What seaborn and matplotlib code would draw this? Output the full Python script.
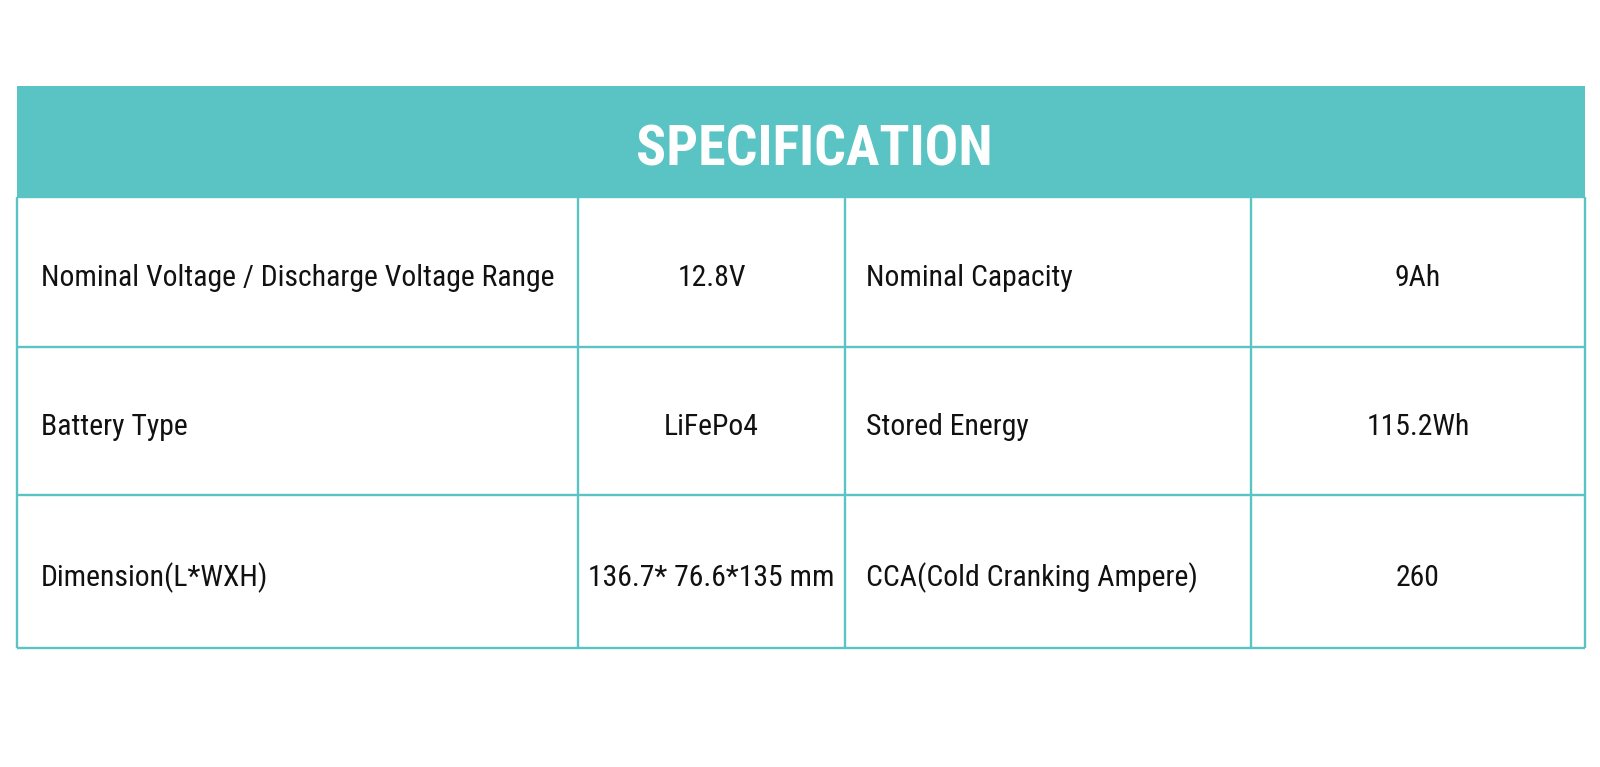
import matplotlib
matplotlib.use("Agg")
import matplotlib.pyplot as plt
from matplotlib import font_manager
import seaborn as sns

# table content
title = "SPECIFICATION"
param_left = ["Nominal Voltage / Discharge Voltage Range", "Battery Type", "Dimension(L*WXH)"]
value_left = ["12.8V", "LiFePo4", "136.7* 76.6*135 mm"]
param_right = ["Nominal Capacity", "Stored Energy", "CCA(Cold Cranking Ampere)"]
value_right = ["9Ah", "115.2Wh", "260"]

# layout in pixels
col_edges = [17, 578, 845, 1251, 1585]
row_edges = [86, 197, 347, 495, 648]
teal = "#5AC4C4"

sns.set_theme(style="white")

# look for a narrow face, the reference uses a condensed sans
fonts = font_manager.fontManager.ttflist
narrow = [f for f in fonts if "condensed" in str(f.stretch).lower() or "narrow" in f.name.lower()
          or "condensed" in f.name.lower()]
pick = None
for want in ["Roboto Condensed", "Liberation Sans Narrow", "Open Sans Condensed", "Noto Sans", "DejaVu Sans"]:
    hits = [f for f in narrow if f.name == want]
    if hits:
        pick = hits[0]
        break
if pick is None and narrow:
    pick = narrow[0]
if pick is not None:
    body_font = dict(family=[pick.name, "DejaVu Sans"], fontstretch="condensed")
else:
    body_font = dict(family=["DejaVu Sans"])

fig = plt.figure(figsize=(16, 7.67), dpi=100)
ax = fig.add_axes([0, 0, 1, 1])
ax.set_xlim(0, 1600)
ax.set_ylim(767, 0)
ax.axis("off")
renderer = fig.canvas.get_renderer()


def fit_size(s, target_w, base, weight="normal"):
    t = ax.text(0, 0, s, fontsize=base, fontweight=weight, **body_font)
    w = t.get_window_extent(renderer).width
    t.remove()
    return base * target_w / w


# header band
ax.fill_between([col_edges[0], col_edges[-1]], row_edges[0], row_edges[1], color=teal, lw=0)
title_size = min(fit_size(title, 356, 40, "bold"), 47)
ax.text(814, (row_edges[0] + row_edges[1]) / 2 + 3, title, color="white", fontsize=title_size,
        fontweight="bold", ha="center", va="center_baseline", **body_font)

# grid lines
ax.hlines(row_edges[1:], col_edges[0], col_edges[-1], color=teal, lw=1.7)
ax.vlines([col_edges[0], col_edges[-1]], row_edges[1], row_edges[-1], color=teal, lw=1.7)
ax.vlines(col_edges[1:-1], row_edges[1], row_edges[-1], color=teal, lw=1.7)

# cell text
fs = min(fit_size(param_left[0], 514, 20), 27)
for i in range(len(param_left)):
    yc = (row_edges[i + 1] + row_edges[i + 2]) / 2 + 3
    ax.text(col_edges[0] + 24, yc, param_left[i], fontsize=fs,
            ha="left", va="center_baseline", color="#111111", **body_font)
    ax.text((col_edges[1] + col_edges[2]) / 2, yc, value_left[i], fontsize=fs,
            ha="center", va="center_baseline", color="#111111", **body_font)
    ax.text(col_edges[2] + 21, yc, param_right[i], fontsize=fs,
            ha="left", va="center_baseline", color="#111111", **body_font)
    ax.text((col_edges[3] + col_edges[4]) / 2, yc, value_right[i], fontsize=fs,
            ha="center", va="center_baseline", color="#111111", **body_font)

fig.savefig("out.png", dpi=100, facecolor="white")
